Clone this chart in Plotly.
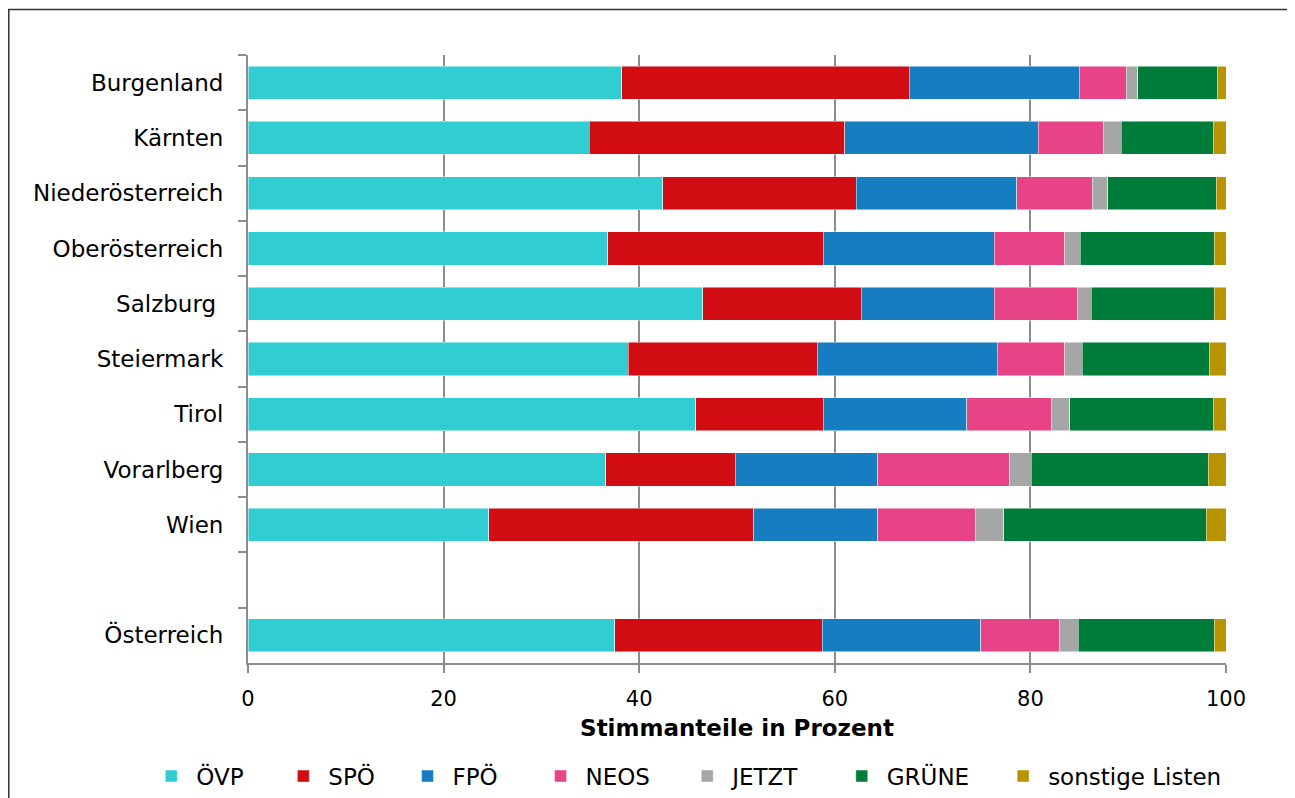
import plotly.graph_objects as go

regions = ["Burgenland", "Kärnten", "Niederösterreich", "Oberösterreich", "Salzburg ",
           "Steiermark", "Tirol", "Vorarlberg", "Wien", " ", "Österreich"]
data_regions = ["Burgenland", "Kärnten", "Niederösterreich", "Oberösterreich", "Salzburg ",
                "Steiermark", "Tirol", "Vorarlberg", "Wien", "Österreich"]

oevp   = [38.2, 34.9, 42.4, 36.8, 46.5, 38.9, 45.8, 36.6, 24.6, 37.5]
spoe   = [29.4, 26.1, 19.8, 22.0, 16.2, 19.3, 13.0, 13.2, 27.1, 21.2]
fpoe   = [17.4, 19.8, 16.4, 17.5, 13.6, 18.4, 14.7, 14.6, 12.7, 16.2]
neos   = [4.8, 6.7, 7.7, 7.2, 8.5, 6.9, 8.7, 13.5, 10.0, 8.1]
jetzt  = [1.2, 1.8, 1.6, 1.6, 1.4, 1.8, 1.8, 2.2, 2.9, 1.9]
gruene = [8.1, 9.4, 11.1, 13.7, 12.6, 13.0, 14.7, 18.1, 20.7, 13.9]
sonst  = [0.9, 1.3, 1.0, 1.2, 1.2, 1.7, 1.3, 1.8, 2.0, 1.2]

parties = ["ÖVP", "SPÖ", "FPÖ", "NEOS", "JETZT", "GRÜNE", "sonstige Listen"]
series = [oevp, spoe, fpoe, neos, jetzt, gruene, sonst]
colors = ["#30CED3", "#D20C13", "#167EC0", "#E84386", "#A6A6A6", "#007C3A", "#B79400"]
# legend entry left positions (paper x)
legend_x = [-0.104, 0.031, 0.158, 0.294, 0.444, 0.602, 0.767]

font_family = "DejaVu Sans"

fig = go.Figure()
for i, (name, vals, col) in enumerate(zip(parties, series, colors)):
    fig.add_trace(go.Bar(
        y=data_regions, x=vals, name=name, orientation="h",
        marker=dict(color=col, line=dict(color="rgba(255,255,255,0.6)", width=0.8)),
        width=0.6,
        legend="legend" if i == 0 else f"legend{i+1}",
    ))

layout_legends = {}
for i, lx in enumerate(legend_x):
    key = "legend" if i == 0 else f"legend{i+1}"
    layout_legends[key] = dict(
        orientation="h", x=lx, xanchor="left", y=-0.186, yanchor="middle",
        font=dict(size=23), itemwidth=40, bgcolor="rgba(0,0,0,0)",
    )

fig.update_layout(
    barmode="stack",
    width=1295, height=798,
    margin=dict(l=240, r=77, t=47, b=143, autoexpand=False),
    paper_bgcolor="white", plot_bgcolor="white",
    font=dict(family=font_family, size=20, color="black"),
    xaxis=dict(
        range=[0, 100], tickvals=[0, 20, 40, 60, 80, 100],
        showgrid=True, gridcolor="#8C8C8C", gridwidth=1.5,
        showline=True, linecolor="#8C8C8C", linewidth=2,
        ticks="outside", ticklen=8, tickcolor="#8C8C8C", tickwidth=1.5,
        zeroline=False, automargin=False, ticklabelstandoff=8,
        tickfont=dict(size=21),
        title=dict(text="<b>Stimmanteile in Prozent</b>", font=dict(size=23), standoff=10),
    ),
    yaxis=dict(
        type="category", categoryorder="array", categoryarray=regions,
        autorange="reversed", range=[-0.5, len(regions) - 0.5],
        showline=True, linecolor="#8C8C8C", linewidth=2,
        ticks="outside", tickson="boundaries", ticklen=8, tickcolor="#8C8C8C", tickwidth=1.5,
        showgrid=False, ticklabelstandoff=18, automargin=False,
        tickfont=dict(size=23),
    ),
    showlegend=True,
    bargap=0.4,
    shapes=[dict(
        type="rect", xref="paper", yref="paper",
        x0=-0.2446, x1=1.0654, y0=-0.26, y1=1.0748,
        line=dict(color="#333333", width=1.5), fillcolor="rgba(0,0,0,0)", layer="above",
    )],
    **layout_legends,
)

fig.write_html("out.html")
